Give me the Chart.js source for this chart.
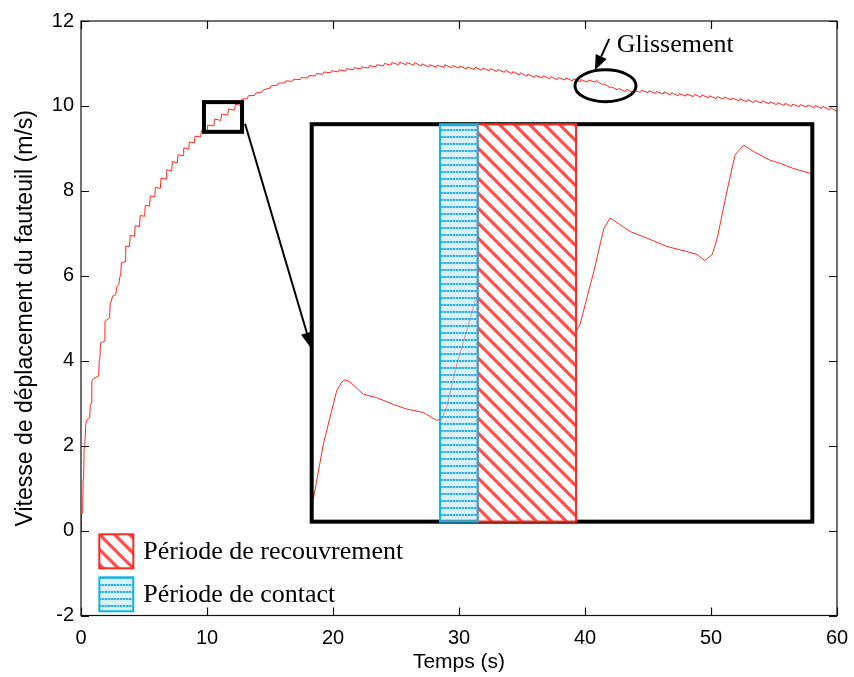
<!DOCTYPE html>
<html lang="fr">
<head>
<meta charset="utf-8">
<title>Vitesse de déplacement du fauteuil</title>
<script src="https://cdn.jsdelivr.net/npm/chart.js@4.4.0/dist/chart.umd.min.js"></script>
<style>
  html, body { margin: 0; padding: 0; background: #fff; }
  #wrap { position: relative; width: 854px; height: 677px; }
</style>
</head>
<body>
<div id="wrap"><canvas id="vitesse"></canvas></div>
<script>
// mesures [temps (s), vitesse (m/s)] -- phase de démarrage, poussées bien visibles
const demarrage = [
  [0,0],[0.03,0.39],[0.13,0.41],[0.17,1.21],[0.21,1.24],[0.25,1.96],[0.3,2.0],[0.38,2.5],
  [0.45,2.6],[0.69,2.66],[0.74,2.97],[0.8,3.0],[0.86,3.52],[1.0,3.58],[1.4,3.64],[1.45,4.03],
  [1.5,4.05],[1.55,4.42],[1.83,4.46],[1.9,4.93],[2.27,5.01],[2.32,5.36],[2.41,5.4],[2.5,5.52],
  [2.75,5.55],[2.85,5.75],[3.0,5.8],[3.07,5.96],[3.15,6.0],[3.2,6.3],[3.5,6.33],[3.55,6.7],
  [3.85,6.68],[3.9,6.95],[4.25,6.93],[4.3,7.18],[4.65,7.16],[4.7,7.42],[5.05,7.4],[5.1,7.66],
  [5.45,7.64],[5.5,7.88],[5.85,7.86],[5.9,8.08],[6.3,8.06],[6.35,8.3],[6.75,8.28],[6.8,8.5],
  [7.2,8.47],[7.25,8.69],[7.65,8.66],[7.7,8.85],[8.1,8.83],[8.15,9.01],[8.55,8.98],[8.6,9.15],
  [9.0,9.13],[9.05,9.29],[9.5,9.27],[9.55,9.42],[10.0,9.4],[10.05,9.55],[10.55,9.53],[10.6,9.69],
  [11.1,9.66],[11.15,9.81],[11.65,9.78],[11.7,9.93],[12.2,9.9],[12.25,10.04],[12.7,10.01],[12.75,10.16]
];

// vitesse de croisière, petites oscillations à chaque poussée
const croisiere = [
  [13.2,10.17],[13.28,10.24],[13.8,10.25],[13.88,10.3],[14.4,10.33],[14.48,10.38],[15.0,10.42],[15.08,10.47],
  [15.6,10.49],[15.68,10.54],[16.2,10.54],[16.28,10.59],[16.8,10.58],[16.88,10.63],[17.4,10.62],[17.48,10.67],
  [18.0,10.66],[18.08,10.71],[18.6,10.71],[18.68,10.76],[19.2,10.75],[19.28,10.8],[19.8,10.78],[19.88,10.83],
  [20.4,10.8],[20.48,10.85],[21.0,10.82],[21.08,10.88],[21.6,10.85],[21.68,10.9],[22.2,10.87],[22.28,10.92],
  [22.8,10.89],[22.88,10.95],[23.4,10.92],[23.48,10.97],[24.0,10.94],[24.08,11.0],[24.6,10.96],[24.68,11.02],
  [25.2,10.97],[25.28,11.03],[25.8,10.97],[25.88,11.02],[26.4,10.96],[26.48,11.02],[27.0,10.94],[27.08,10.99],
  [27.6,10.92],[27.68,10.97],[28.2,10.91],[28.28,10.96],[28.8,10.91],[28.88,10.97],[29.4,10.9],[29.48,10.95],
  [30.0,10.89],[30.08,10.94],[30.6,10.87],[30.68,10.92],[31.2,10.86],[31.28,10.91],[31.8,10.84],[31.88,10.89],
  [32.4,10.83],[32.48,10.88],[33.0,10.81],[33.08,10.86],[33.6,10.79],[33.68,10.84],[34.2,10.76],[34.28,10.81],
  [34.8,10.73],[34.88,10.78],[35.4,10.7],[35.48,10.75],[36.0,10.67],[36.08,10.72],[36.6,10.66],[36.68,10.71],
  [37.2,10.64],[37.28,10.69],[37.8,10.62],[37.88,10.67],[38.4,10.61],[38.48,10.66],[39.0,10.59],[39.08,10.64],
  [39.6,10.57],[39.68,10.62],[40.2,10.56],[40.28,10.61]
];

// glissement vers 41 s puis lente décroissance
const glissement = [
  [40.8,10.56],[40.88,10.6],[41.4,10.5],[41.48,10.52],[42.0,10.43],[42.08,10.45],[42.6,10.38],[42.68,10.41],
  [43.2,10.34],[43.28,10.39],[43.8,10.32],[43.88,10.37],[44.4,10.32],[44.48,10.37],[45.0,10.31],[45.08,10.36],
  [45.6,10.29],[45.68,10.34],[46.2,10.28],[46.28,10.33],[46.8,10.26],[46.88,10.31],[47.4,10.24],[47.48,10.29],
  [48.0,10.23],[48.08,10.28],[48.6,10.22],[48.68,10.27],[49.2,10.21],[49.28,10.26],[49.8,10.19],[49.88,10.24],
  [50.4,10.17],[50.48,10.22],[51.0,10.16],[51.08,10.21],[51.6,10.14],[51.68,10.19],[52.2,10.12],[52.28,10.17],
  [52.8,10.1],[52.88,10.15],[53.4,10.08],[53.48,10.13],[54.0,10.07],[54.08,10.12],[54.6,10.05],[54.68,10.1],
  [55.2,10.03],[55.28,10.08],[55.8,10.01],[55.88,10.06],[56.4,9.99],[56.48,10.04],[57.0,9.98],[57.08,10.03],
  [57.6,9.97],[57.68,10.02],[58.2,9.96],[58.28,10.01],[58.8,9.94],[58.88,9.99],[59.4,9.91],[59.48,9.96],
  [60.0,9.87]
];

// courbe agrandie affichée dans l'encart (repère du graphe principal)
const loupe = [
  [18.44,0.74],[19.23,2.03],[20.29,3.29],[20.7,3.5],[20.95,3.55],[21.35,3.5],[22.4,3.21],[23.47,3.13],
  [24.8,2.97],[25.85,2.86],[27.17,2.78],[28.2,2.6],[28.63,2.62],[29.02,2.9],[29.82,3.91],[30.6,4.69],
  [31.27,5.4],[31.48,5.5],[33.3,5.2],[37.75,5.1],[39.3,4.7],[39.6,4.85],[40.7,6.1],[41.5,7.12],
  [42.0,7.36],[42.3,7.3],[43.6,7.04],[44.9,6.89],[46.5,6.69],[48.1,6.57],[48.9,6.5],[49.5,6.36],
  [50.1,6.5],[50.5,6.89],[51.2,7.9],[51.9,8.84],[52.6,9.08],[53.4,8.92],[54.7,8.72],[55.5,8.65],
  [56.5,8.53],[57.9,8.41]
];

const ticksTemps = [0, 10, 20, 30, 40, 50, 60];
const ticksVitesse = [-2, 0, 2, 4, 6, 8, 10, 12];

// zones annotées (temps en s, vitesse en m/s)
const cadreZoom = { t: [9.76, 12.78], v: [9.39, 10.09] };
const encart = { t: [18.31, 58.04], v: [0.21, 9.57] };
const periodeContact = [28.49, 31.48];
const periodeRecouvrement = [31.48, 39.29];
const zoneGlissement = { t: [39.2, 44.05], v: [10.1, 10.85] };

const ROUGE = 'rgb(255,40,30)';
const BLEU = 'rgb(20,180,230)';

function motifHachures() {
  const s = 15;
  const c = document.createElement('canvas');
  c.width = s; c.height = s;
  const g = c.getContext('2d');
  g.fillStyle = 'rgba(255,255,255,0.85)';
  g.fillRect(0, 0, s, s);
  g.strokeStyle = 'rgba(255,60,55,0.9)';
  g.lineWidth = 3.2;
  g.beginPath();
  g.moveTo(-2, -2); g.lineTo(s + 2, s + 2);
  g.moveTo(-2, s - 2); g.lineTo(2, s + 2);
  g.moveTo(s - 2, -2); g.lineTo(s + 2, 2);
  g.stroke();
  return g.createPattern(c, 'repeat');
}

function motifPoints() {
  const c = document.createElement('canvas');
  c.width = 6; c.height = 7;
  const g = c.getContext('2d');
  g.fillStyle = 'rgba(190,232,250,0.6)';
  g.fillRect(0, 0, 6, 7);
  g.fillStyle = 'rgba(30,170,228,0.9)';
  g.fillRect(0, 3, 2, 2);
  g.fillRect(3, 3, 2, 2);
  g.fillStyle = 'rgba(30,170,228,0.45)';
  g.fillRect(2, 3, 1, 2);
  g.fillRect(5, 3, 1, 2);
  return g.createPattern(c, 'repeat');
}

function fleche(ctx, x0, y0, x1, y1, long, demi) {
  const a = Math.atan2(y1 - y0, x1 - x0);
  const bx = x1 - long * Math.cos(a), by = y1 - long * Math.sin(a);
  ctx.beginPath();
  ctx.moveTo(x0, y0);
  ctx.lineTo(bx, by);
  ctx.stroke();
  ctx.beginPath();
  ctx.moveTo(x1, y1);
  ctx.lineTo(bx + demi * Math.sin(a), by - demi * Math.cos(a));
  ctx.lineTo(bx - demi * Math.sin(a), by + demi * Math.cos(a));
  ctx.closePath();
  ctx.fill();
}

const annotations = {
  id: 'annotations',
  afterDatasetsDraw(chart) {
    const { ctx, chartArea: a } = chart;
    const X = v => chart.scales.x.getPixelForValue(v);
    const Y = v => chart.scales.y.getPixelForValue(v);
    ctx.save();
    ctx.lineJoin = 'miter';

    // petit cadre sur la courbe et encart
    ctx.strokeStyle = '#000';
    ctx.lineWidth = 4;
    ctx.strokeRect(X(cadreZoom.t[0]), Y(cadreZoom.v[1]), X(cadreZoom.t[1]) - X(cadreZoom.t[0]), Y(cadreZoom.v[0]) - Y(cadreZoom.v[1]));
    ctx.strokeRect(X(encart.t[0]), Y(encart.v[1]), X(encart.t[1]) - X(encart.t[0]), Y(encart.v[0]) - Y(encart.v[1]));

    // période de recouvrement puis période de contact
    const haut = Y(encart.v[1]), bas = Y(encart.v[0]);
    const bande = (p, motif, couleur) => {
      const x0 = X(p[0]), x1 = X(p[1]);
      ctx.fillStyle = motif;
      ctx.fillRect(x0, haut, x1 - x0, bas - haut);
      ctx.strokeStyle = couleur;
      ctx.lineWidth = 2;
      ctx.strokeRect(x0, haut, x1 - x0, bas - haut);
    };
    bande(periodeRecouvrement, motifHachures(), ROUGE);
    bande(periodeContact, motifPoints(), BLEU);

    // flèche vers l'encart
    ctx.strokeStyle = '#000';
    ctx.fillStyle = '#000';
    ctx.lineWidth = 2;
    fleche(ctx, X(13.02), Y(9.58), X(18.31), Y(4.27), 17, 6);

    // glissement
    const cx = (X(zoneGlissement.t[0]) + X(zoneGlissement.t[1])) / 2;
    const cy = (Y(zoneGlissement.v[0]) + Y(zoneGlissement.v[1])) / 2;
    ctx.lineWidth = 3;
    ctx.beginPath();
    ctx.ellipse(cx, cy, (X(zoneGlissement.t[1]) - X(zoneGlissement.t[0])) / 2, (Y(zoneGlissement.v[0]) - Y(zoneGlissement.v[1])) / 2, 0, 0, 2 * Math.PI);
    ctx.stroke();
    ctx.lineWidth = 2;
    fleche(ctx, X(41.92), Y(11.58), X(40.79), Y(10.84), 15, 6);
    ctx.font = '26px "Liberation Serif", "Times New Roman", serif';
    ctx.textBaseline = 'alphabetic';
    ctx.textAlign = 'left';
    ctx.fillText('Glissement', X(42.52), Y(11.27));

    // légende
    const lx = a.left + 18.3;
    const items = [
      { motif: motifHachures(), couleur: ROUGE, texte: 'Période de recouvrement', haut: a.bottom - 81.2 },
      { motif: motifPoints(), couleur: BLEU, texte: 'Période de contact', haut: a.bottom - 38.2 }
    ];
    for (const it of items) {
      ctx.fillStyle = '#fff';
      ctx.fillRect(lx, it.haut, 34, 34);
      ctx.fillStyle = it.motif;
      ctx.fillRect(lx, it.haut, 34, 34);
      ctx.strokeStyle = it.couleur;
      ctx.lineWidth = 2;
      ctx.strokeRect(lx, it.haut, 34, 34);
      ctx.fillStyle = '#000';
      ctx.fillText(it.texte, lx + 44, it.haut + 25);
    }

    // cadre des axes avec graduations intérieures
    ctx.strokeStyle = '#111';
    ctx.lineWidth = 1.2;
    ctx.strokeRect(a.left, a.top, a.right - a.left, a.bottom - a.top);
    ctx.beginPath();
    for (const t of ticksTemps) {
      const px = Math.round(X(t)) + 0.5;
      ctx.moveTo(px, a.bottom); ctx.lineTo(px, a.bottom - 8);
      ctx.moveTo(px, a.top); ctx.lineTo(px, a.top + 8);
    }
    for (const v of ticksVitesse) {
      const py = Math.round(Y(v)) + 0.5;
      ctx.moveTo(a.left, py); ctx.lineTo(a.left + 8, py);
      ctx.moveTo(a.right, py); ctx.lineTo(a.right - 8, py);
    }
    ctx.stroke();
    ctx.restore();
  }
};

const enPoints = arr => arr.map(([t, v]) => ({ x: t, y: v }));
const policeAxes = { family: '"Liberation Sans", Arial, sans-serif', size: 20 };

new Chart(document.getElementById('vitesse'), {
  type: 'scatter',
  data: {
    datasets: [
      {
        data: enPoints([...demarrage, ...croisiere, ...glissement]),
        showLine: true, borderColor: ROUGE, borderWidth: 1, pointRadius: 0, tension: 0
      },
      {
        data: enPoints(loupe),
        showLine: true, borderColor: ROUGE, borderWidth: 1, pointRadius: 0, tension: 0
      }
    ]
  },
  options: {
    responsive: true,
    maintainAspectRatio: false,
    animation: false,
    layout: { padding: { top: 21, right: 17, bottom: 0, left: 0 } },
    plugins: { legend: { display: false }, tooltip: { enabled: false } },
    scales: {
      x: {
        type: 'linear', min: 0, max: 60,
        afterBuildTicks: s => { s.ticks = ticksTemps.map(v => ({ value: v })); },
        afterFit: s => { s.height = 61.5; s.paddingLeft = 0; s.paddingRight = 0; },
        grid: { display: false, drawTicks: false }, border: { display: false },
        ticks: { color: '#000', font: policeAxes, padding: 11, maxRotation: 0 },
        title: { display: true, text: 'Temps (s)', color: '#000', font: { family: policeAxes.family, size: 21 }, padding: { top: 2, bottom: 2 } }
      },
      y: {
        type: 'linear', min: -2, max: 12,
        afterBuildTicks: s => { s.ticks = ticksVitesse.map(v => ({ value: v })); },
        afterFit: s => { s.width = 81; s.paddingTop = 0; s.paddingBottom = 0; },
        grid: { display: false, drawTicks: false }, border: { display: false },
        ticks: { color: '#000', font: policeAxes, padding: 7 },
        title: { display: true, text: 'Vitesse de déplacement du fauteuil (m/s)', color: '#000', font: { family: policeAxes.family, size: 23 }, padding: { top: 12, bottom: 2 } }
      }
    }
  },
  plugins: [annotations]
});
</script>
</body>
</html>
